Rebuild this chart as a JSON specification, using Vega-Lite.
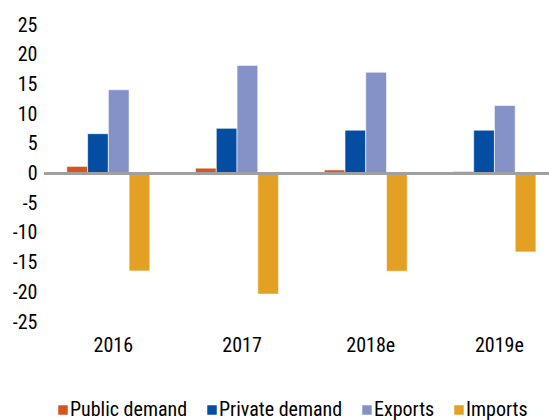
{
  "$schema": "https://vega.github.io/schema/vega-lite/v6.json",
  "width": 505,
  "height": 297,
  "autosize": {"type": "none"},
  "padding": {"left": 44, "top": 25, "right": 0, "bottom": 98},
  "background": "white",
  "config": {
    "view": {"stroke": null},
    "font": "Roboto Condensed, Liberation Sans Narrow, Roboto, sans-serif",
    "axisY": {"labelOverlap": false},
    "axisX": {"labelOverlap": false}
  },
  "data": {
    "values": [
      {"year": "2016", "component": "Public demand", "value": 1.2},
      {"year": "2016", "component": "Private demand", "value": 6.7},
      {"year": "2016", "component": "Exports", "value": 14.1},
      {"year": "2016", "component": "Imports", "value": -16.4},
      {"year": "2017", "component": "Public demand", "value": 0.9},
      {"year": "2017", "component": "Private demand", "value": 7.6},
      {"year": "2017", "component": "Exports", "value": 18.2},
      {"year": "2017", "component": "Imports", "value": -20.3},
      {"year": "2018e", "component": "Public demand", "value": 0.6},
      {"year": "2018e", "component": "Private demand", "value": 7.3},
      {"year": "2018e", "component": "Exports", "value": 17.05},
      {"year": "2018e", "component": "Imports", "value": -16.45},
      {"year": "2019e", "component": "Public demand", "value": 0.33},
      {"year": "2019e", "component": "Private demand", "value": 7.3},
      {"year": "2019e", "component": "Exports", "value": 11.45},
      {"year": "2019e", "component": "Imports", "value": -13.2}
    ]
  },
  "layer": [
    {
      "mark": {"type": "bar", "stroke": "white", "strokeOpacity": 0.6, "strokeWidth": 1},
      "encoding": {
        "x": {
          "field": "year", "type": "nominal", "title": null,
          "scale": {"paddingInner": 0.355, "paddingOuter": 0.1395, "align": 0.636},
          "axis": {"labelAngle": 0, "domain": false, "ticks": false, "labelFontSize": 20, "labelPadding": 13, "labelOffset": 5, "labelColor": "#000000", "labelOverlap": false}
        },
        "xOffset": {
          "field": "component", "type": "nominal",
          "sort": ["Public demand", "Private demand", "Exports", "Imports"],
          "scale": {"paddingInner": 0, "paddingOuter": 0}
        },
        "y": {
          "field": "value", "type": "quantitative", "title": null,
          "scale": {"domain": [-25, 25], "nice": false},
          "axis": {"values": [-25, -20, -15, -10, -5, 0, 5, 10, 15, 20, 25], "labelExpr": "'' + datum.value", "labelOverlap": false, "labelFlush": false, "domain": false, "ticks": false, "grid": false, "labelFontSize": 20, "labelPadding": 7, "labelColor": "#000000"}
        },
        "color": {
          "field": "component", "type": "nominal",
          "sort": ["Public demand", "Private demand", "Exports", "Imports"],
          "scale": {
            "domain": ["Public demand", "Private demand", "Exports", "Imports"],
            "range": ["#D9531E", "#034EA2", "#8592C8", "#E3A023"]
          },
          "legend": {
            "title": null, "orient": "none", "direction": "horizontal",
            "legendX": 9, "legendY": 375, "gridAlign": "none",
            "symbolType": "square", "symbolSize": 90, "symbolStrokeWidth": 0,
            "labelFontSize": 20, "labelColor": "#000000", "labelOffset": -3,
            "columnPadding": 14, "labelLimit": 300
          }
        }
      }
    },
    {
      "mark": {"type": "rule", "color": "#A0A0A0", "strokeWidth": 2},
      "encoding": {"y": {"datum": 0, "type": "quantitative", "axis": {"values": [-25, -20, -15, -10, -5, 0, 5, 10, 15, 20, 25], "labelExpr": "'' + datum.value", "labelOverlap": false, "labelFlush": false, "domain": false, "ticks": false, "grid": false, "labelFontSize": 20, "labelPadding": 7, "labelColor": "#000000"}}}
    }
  ]
}
